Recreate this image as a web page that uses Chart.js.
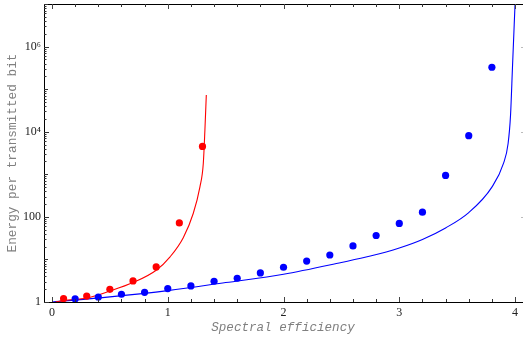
<!DOCTYPE html>
<html>
<head>
<meta charset="utf-8">
<script src="https://cdn.jsdelivr.net/npm/chart.js@4/dist/chart.umd.min.js"></script>
<style>
html,body{margin:0;padding:0;background:#fff;overflow:hidden;}
#wrap{width:523px;height:338px;position:relative;}
</style>
</head>
<body>
<div id="wrap"><canvas id="c"></canvas></div>
<script>
// ---- data ----
const redPointsX = [0.1, 0.3, 0.5, 0.7, 0.9, 1.1, 1.3];
const redPointsY = [1.2, 1.38, 1.99, 3.12, 6.66, 72, 4510];

const bluePointsX = [0.2, 0.4, 0.6, 0.8, 1.0, 1.2, 1.4, 1.6, 1.8, 2.0, 2.2, 2.4, 2.6, 2.8, 3.0, 3.2, 3.4, 3.6, 3.8];
const bluePointsY = [1.18, 1.31, 1.52, 1.69, 2.07, 2.38, 3.07, 3.61, 4.81, 6.55, 9.17, 12.7, 20.8, 36.5, 70, 129, 942, 8050, 327000];

const redCurveX = [0.03, 0.1, 0.3, 0.5, 0.7, 0.9, 1.02, 1.134, 1.22, 1.278, 1.307, 1.321, 1.333];
const redCurveY = [1.0, 1.09, 1.24, 1.81, 2.86, 5.57, 11.5, 32.4, 120, 508, 1800, 11000, 73000];

const blueCurveX = [0, 0.5, 1.0, 1.5, 2.0, 2.5, 2.75, 3.0, 3.2, 3.4, 3.6, 3.8, 3.9, 3.94, 3.961, 3.978, 4.0];
const blueCurveY = [1.0, 1.32, 1.85, 2.86, 4.49, 8.5, 12.0, 18.6, 29.5, 55, 126, 500, 1800, 5300, 24500, 340000, 1e7];

const xTickValues = [0, 1, 2, 3, 4];
const xTickLabels = ['0', '1', '2', '3', '4'];
const yTickValues = [1, 100, 1e4, 1e6];
const yTickLabels = ['1', '100', '10\u2074', '10\u2076'];

const xTitle = 'Spectral efficiency';
const yTitle = 'Energy per transmitted bit';

function pts(xs, ys) { return xs.map((x, i) => ({x: x, y: ys[i]})); }

const frameTicks = {
  id: 'frameTicks',
  afterDatasetsDraw(chart) {
    const ctx = chart.ctx, a = chart.chartArea;
    const xs = chart.scales.x, ys = chart.scales.y;
    ctx.save();
    ctx.lineWidth = 1;
    ctx.strokeStyle = '#000';
    // frame (left, top, bottom)
    ctx.beginPath();
    ctx.moveTo(a.left + 0.5, a.bottom);
    ctx.lineTo(a.left + 0.5, a.top + 0.5);
    ctx.lineTo(a.right + 1, a.top + 0.5);
    ctx.stroke();
    ctx.beginPath();
    ctx.moveTo(a.left, a.bottom + 0.5);
    ctx.lineTo(a.right + 1, a.bottom + 0.5);
    ctx.stroke();
    // x ticks (bottom upward, top downward)
    for (let k = 0; k <= 20; k++) {
      const v = k / 5;
      const px = Math.round(xs.getPixelForValue(v)) + 0.5;
      const major = (k % 5 === 0);
      const len = major ? 5 : 3;
      ctx.strokeStyle = major ? '#444' : '#333';
      ctx.beginPath();
      ctx.moveTo(px, a.bottom); ctx.lineTo(px, a.bottom - len);
      ctx.moveTo(px, a.top); ctx.lineTo(px, a.top + len);
      ctx.stroke();
    }
    // y ticks on the left, inward
    for (let e = 0; e <= 7; e++) {
      for (let m = 1; m <= 9; m++) {
        const v = m * Math.pow(10, e);
        if (v > 1e7) break;
        const py = Math.round(ys.getPixelForValue(v)) + 0.5;
        const major = (m === 1);
        const len = major ? (e % 2 === 0 ? 5 : 4) : 2.5;
        ctx.strokeStyle = '#333';
        ctx.beginPath();
        ctx.moveTo(a.left, py); ctx.lineTo(a.left + len, py);
        ctx.stroke();
      }
    }
    // faint right-side marks at even decades
    ctx.fillStyle = '#bbb';
    for (let e = 2; e <= 6; e += 2) {
      const py = Math.round(ys.getPixelForValue(Math.pow(10, e)));
      ctx.fillRect(Math.round(a.right) - 1, py, 2, 1);
    }
    ctx.restore();
  }
};

new Chart(document.getElementById('c'), {
  type: 'scatter',
  data: {
    datasets: [
      {label: 'red points', data: pts(redPointsX, redPointsY), backgroundColor: '#ff0000', borderColor: '#ff0000', pointRadius: 3.6, pointBorderWidth: 0, showLine: false, order: 0},
      {label: 'blue points', data: pts(bluePointsX, bluePointsY), backgroundColor: '#0000ff', borderColor: '#0000ff', pointRadius: 3.6, pointBorderWidth: 0, showLine: false, order: 0},
      {label: 'red curve', data: pts(redCurveX, redCurveY), borderColor: '#ff0000', borderWidth: 1.1, pointRadius: 0, showLine: true, cubicInterpolationMode: 'monotone', order: 1},
      {label: 'blue curve', data: pts(blueCurveX, blueCurveY), borderColor: '#0000ff', borderWidth: 1.1, pointRadius: 0, showLine: true, cubicInterpolationMode: 'monotone', order: 1}
    ]
  },
  options: {
    responsive: true,
    maintainAspectRatio: false,
    animation: false,
    devicePixelRatio: 1,
    layout: {autoPadding: false, padding: {top: 4, right: 1, left: 0, bottom: 0}},
    plugins: {legend: {display: false}, tooltip: {enabled: false}},
    scales: {
      x: {
        type: 'linear', min: -0.069, max: 4.06,
        border: {display: false},
        grid: {display: false, drawTicks: false, drawOnChartArea: false},
        afterBuildTicks(s) { s.ticks = xTickValues.map(v => ({value: v})); },
        afterFit(s) { s.height = 36; s.paddingLeft = 0; s.paddingRight = 0; },
        ticks: {
          autoSkip: false, maxRotation: 0, padding: 4,
          color: '#222',
          font: {family: '"Liberation Serif", "DejaVu Serif", serif', size: 12},
          callback(v) { const i = xTickValues.indexOf(v); return i >= 0 ? xTickLabels[i] : ''; }
        },
        title: {
          display: true, text: xTitle, color: '#808080',
          font: {family: '"Liberation Mono", "DejaVu Sans Mono", monospace', size: 12.6, style: 'italic'},
          padding: {top: 0, bottom: 3}
        }
      },
      y: {
        type: 'logarithmic', min: 1, max: 1e7,
        border: {display: false},
        grid: {display: false, drawTicks: false, drawOnChartArea: false},
        afterBuildTicks(s) { s.ticks = yTickValues.map(v => ({value: v, major: true})); },
        afterFit(s) { s.width = 44; s.paddingTop = 0; s.paddingBottom = 0; },
        ticks: {
          autoSkip: false, padding: 3,
          color: '#222',
          font: {family: '"Liberation Serif", "DejaVu Serif", serif', size: 12},
          callback(v) { const i = yTickValues.indexOf(v); return i >= 0 ? yTickLabels[i] : ''; }
        },
        title: {
          display: true, text: yTitle, color: '#808080',
          font: {family: '"Liberation Mono", "DejaVu Sans Mono", monospace', size: 12.75},
          padding: {top: 5, bottom: 0}
        }
      }
    }
  },
  plugins: [frameTicks]
});
</script>
</body>
</html>
